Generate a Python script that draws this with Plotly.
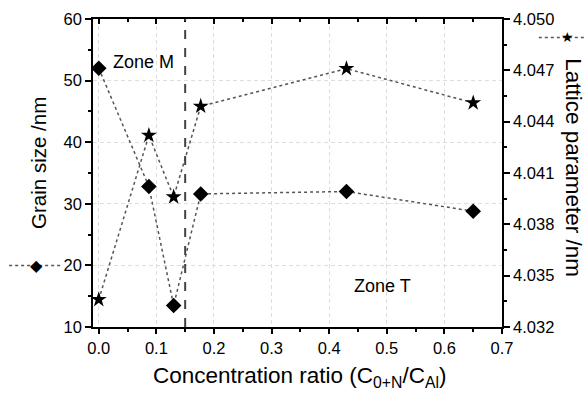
import plotly.graph_objects as go

x_vals = [0.0, 0.087, 0.13, 0.177, 0.43, 0.65]
grain_size = [52.0, 32.8, 13.5, 31.6, 32.0, 28.8]
lattice_param = [4.0336, 4.0432, 4.0396, 4.0449, 4.0471, 4.0451]
x_ticks = [0.0, 0.1, 0.2, 0.3, 0.4, 0.5, 0.6, 0.7]
left_ticks = [10, 20, 30, 40, 50, 60]
right_ticks = [4.032, 4.035, 4.038, 4.041, 4.044, 4.047, 4.050]
zone_boundary = 0.15

FONT = "Liberation Sans"
LINE_COL = "#555555"

fig = go.Figure()
fig.add_trace(go.Scatter(
    x=x_vals, y=grain_size, mode="lines+markers", yaxis="y",
    line=dict(color=LINE_COL, width=1.5, dash="dot"),
    marker=dict(symbol="diamond", size=12, color="black"),
    cliponaxis=False, showlegend=False))
fig.add_trace(go.Scatter(
    x=x_vals, y=lattice_param, mode="lines+markers", yaxis="y2",
    line=dict(color=LINE_COL, width=1.5, dash="dot"),
    marker=dict(symbol="star", size=12, color="black"),
    cliponaxis=False, showlegend=False))
# invisible trace for top axis
fig.add_trace(go.Scatter(x=[x_ticks[0]], y=[left_ticks[0]], xaxis="x2", yaxis="y",
                         mode="markers", marker=dict(opacity=0), showlegend=False,
                         hoverinfo="skip"))

fig.add_shape(type="line", xref="x", yref="paper", x0=zone_boundary, x1=zone_boundary,
              y0=0, y1=1, line=dict(color="#444444", width=2, dash="dash"))

# legend-like symbols next to axis titles
fig.add_shape(type="line", xref="paper", yref="paper", x0=-0.205, x1=-0.08,
              y0=(20 - 10) / 50, y1=(20 - 10) / 50,
              line=dict(color=LINE_COL, width=1.5, dash="dot"))
fig.add_annotation(xref="paper", yref="paper", x=-0.137, y=(20 - 10) / 50, text="◆",
                   showarrow=False, font=dict(size=16, color="black", family="DejaVu Sans"),
                   xanchor="center", yanchor="middle")
fig.add_shape(type="line", xref="paper", yref="paper", x0=1.09, x1=1.2,
              y0=0.94, y1=0.94, line=dict(color=LINE_COL, width=1.5, dash="dot"))
fig.add_annotation(xref="paper", yref="paper", x=1.16, y=0.94, text="★",
                   showarrow=False, font=dict(size=14, color="black", family="DejaVu Sans"),
                   xanchor="center", yanchor="middle")

fig.add_annotation(xref="paper", yref="paper", x=-0.135, y=0.532, text="Grain size /nm",
                   textangle=-90, showarrow=False, font=dict(size=20.5, color="black", family=FONT),
                   xanchor="center", yanchor="middle")
fig.add_annotation(xref="paper", yref="paper", x=1.175, y=0.517, text="Lattice parameter /nm",
                   textangle=90, showarrow=False, font=dict(size=22.5, color="black", family=FONT),
                   xanchor="center", yanchor="middle")
fig.add_annotation(xref="paper", yref="paper", x=0.505, y=-0.162,
                   text="Concentration ratio (C<sub>0+N</sub>/C<sub>Al</sub>)",
                   showarrow=False, font=dict(size=22.5, color="black", family=FONT),
                   xanchor="center", yanchor="middle")

fig.add_annotation(x=0.078, y=53, xref="x", yref="y", text="Zone M", showarrow=False,
                   font=dict(size=18, color="black", family=FONT))
fig.add_annotation(x=0.492, y=16.7, xref="x", yref="y", text="Zone T", showarrow=False,
                   font=dict(size=18, color="black", family=FONT))

grid = dict(showgrid=True, gridcolor="#dedede", griddash="4px,3px", gridwidth=1)

fig.update_layout(
    template="none",
    width=588, height=406,
    margin=dict(l=93, r=86, t=19, b=79),
    paper_bgcolor="white", plot_bgcolor="white",
    font=dict(family=FONT, color="black", size=16.5),
    xaxis=dict(range=[-0.01, 0.7], tickvals=x_ticks, tickformat=".1f", automargin=False,
               ticks="outside", ticklen=5, tickwidth=1.5, tickcolor="black",
               showline=True, linecolor="black", linewidth=1.5, zeroline=False,
               minor=dict(ticks="outside", ticklen=3, dtick=0.05, tick0=0.0, tickcolor="black",
                          showgrid=False),
               tickfont=dict(size=16.5), **grid),
    xaxis2=dict(range=[-0.01, 0.7], overlaying="x", side="top", anchor="y", automargin=False,
                tickvals=x_ticks, showticklabels=False, ticks="inside", ticklen=5,
                tickwidth=1.5, tickcolor="black", showline=True, linecolor="black",
                linewidth=1.5, showgrid=False, zeroline=False,
                minor=dict(ticks="inside", ticklen=3, dtick=0.05, tick0=0.0, tickcolor="black",
                           showgrid=False)),
    yaxis=dict(range=[10, 60], tickvals=left_ticks, ticks="outside", ticklen=6, tickwidth=1.5,
               tickcolor="black", showline=True, linecolor="black", linewidth=1.5,
               zeroline=False, tickfont=dict(size=16.5), automargin=False,
               minor=dict(ticks="outside", ticklen=3, dtick=5, tick0=10, tickcolor="black",
                          showgrid=False),
               **grid),
    yaxis2=dict(range=[4.032, 4.050], tickvals=right_ticks, tickformat=".3f", automargin=False,
                overlaying="y", side="right", ticks="outside", ticklen=6, tickwidth=1.5,
                tickcolor="black", showline=True, linecolor="black", linewidth=1.5,
                zeroline=False, showgrid=False, tickfont=dict(size=16.5),
                minor=dict(ticks="outside", ticklen=3, dtick=0.0015, tick0=4.032,
                           tickcolor="black", showgrid=False)),
)

fig.write_html("out.html", config={"displayModeBar": False},
               post_script="document.body.style.margin='0';document.body.style.overflow='hidden';")
